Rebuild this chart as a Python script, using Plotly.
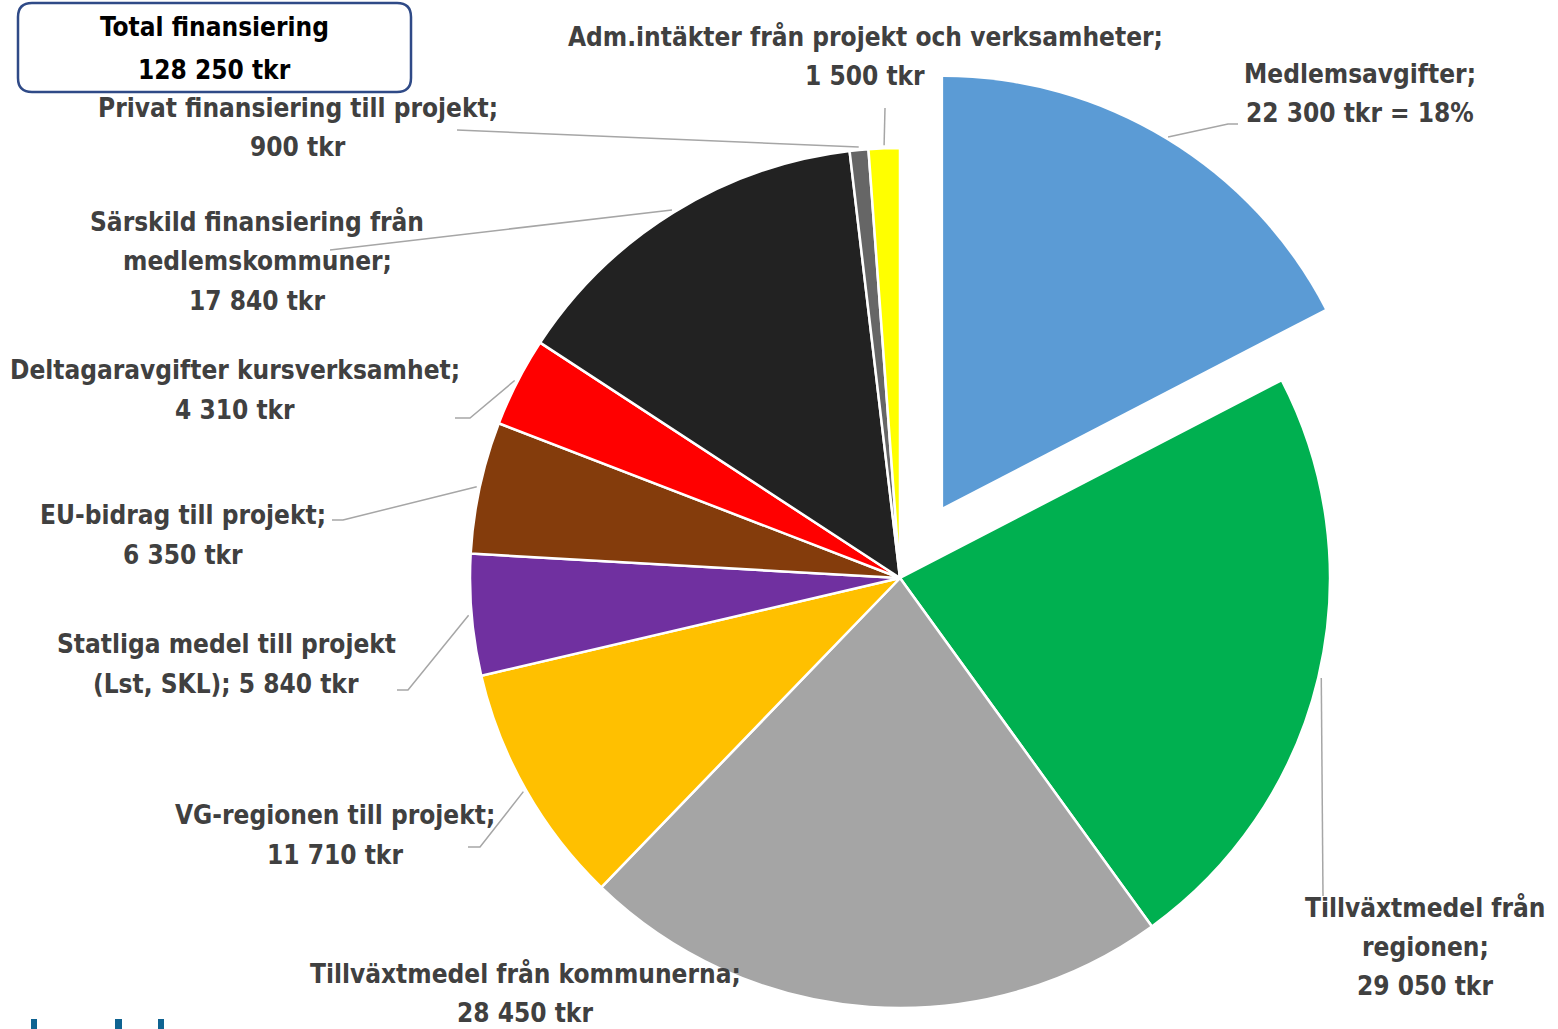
import math
import plotly.graph_objects as go

# ---------------- data ----------------
categories = [
    "Medlemsavgifter",
    "Tillväxtmedel från regionen",
    "Tillväxtmedel från kommunerna",
    "VG-regionen till projekt",
    "Statliga medel till projekt (Lst, SKL)",
    "EU-bidrag till projekt",
    "Deltagaravgifter kursverksamhet",
    "Särskild finansiering från medlemskommuner",
    "Privat finansiering till projekt",
    "Adm.intäkter från projekt och verksamheter",
]
values_tkr = [22300, 29050, 28450, 11710, 5840, 6350, 4310, 17840, 900, 1500]
label_heads = [
    "Medlemsavgifter;",
    "Tillväxtmedel från<br>regionen;",
    "Tillväxtmedel från kommunerna;",
    "VG-regionen till projekt;",
    "Statliga medel till projekt<br>(Lst, SKL);",
    "EU-bidrag till projekt;",
    "Deltagaravgifter kursverksamhet;",
    "Särskild finansiering från<br>medlemskommuner;",
    "Privat finansiering till projekt;",
    "Adm.intäkter från projekt och verksamheter;",
]
label_suffix = [" = 18%", "", "", "", "", "", "", "", "", ""]
value_on_same_line = [False, False, False, False, True, False, False, False, False, False]
total_title = "Total finansiering"
total_tkr = 128250

# ---------------- styles ----------------
colors = ["#5b9bd5", "#00b050", "#a5a5a5", "#ffc000", "#7030a0",
          "#843c0c", "#ff0000", "#222222", "#666666", "#ffff00"]
W, H = 1558, 1029
CX, CY, R = 900, 578, 430
PULL = 0.193
FONT = "Liberation Sans Narrow, DejaVu Sans Condensed, Roboto Condensed, Arial Narrow, sans-serif"
FSIZE = 26
TXT = "#404040"
LINE = "#a6a6a6"
LSTEP = 39.5

# label centre x and first-line y (px); leader-line label-side points (px)
label_pos = [(1360, 74), (1425, 907), (525, 973), (335, 815), (226, 644),
             (183, 515), (235, 370), (257, 222), (298, 108), (865, 37)]
leader_tail = [
    [(1228, 124), (1238, 124)],
    [(1323, 896)],
    None,
    [(480, 847), (468, 847)],
    [(408, 690), (397, 690)],
    [(343, 520), (332, 520)],
    [(470, 418), (455, 418)],
    [(330, 250)],
    [(457, 130)],
    [(885, 108)],
]


def fx(x):
    return x / W


def fy(y):
    return 1 - y / H


def fmt(v):
    return f"{v:,}".replace(",", " ") + " tkr"


def add_lines(annotations, lines, x, y0, step, color):
    for k, line in enumerate(lines):
        annotations.append(dict(
            x=fx(x), y=fy(y0 + k * step), xref="paper", yref="paper", text=line,
            showarrow=False, xanchor="center", yanchor="middle", align="center",
            font=dict(family=FONT, size=FSIZE, color=color, weight=700),
        ))


# mid angles from data
tot = sum(values_tkr)
mids = []
cum = 0.0
for v in values_tkr:
    f = v / tot
    mids.append((cum + f / 2) * 360)
    cum += f

# pulled slice centre
a0 = math.radians(mids[0])
PCX = CX + PULL * R * math.sin(a0)
PCY = CY - PULL * R * math.cos(a0)

fig = go.Figure()

# main pie with first slice transparent
main_colors = ["rgba(0,0,0,0)"] + colors[1:]
main_widths = [0] + [2.5] * (len(values_tkr) - 1)
fig.add_trace(go.Pie(
    labels=categories, values=values_tkr, sort=False, direction="clockwise",
    rotation=0, textinfo="none", hoverinfo="label+value",
    marker=dict(colors=main_colors, line=dict(color="white", width=main_widths)),
    domain=dict(x=[fx(CX - R), fx(CX + R)], y=[fy(CY + R), fy(CY - R)]),
    showlegend=False,
))

# pulled-out first slice
fig.add_trace(go.Pie(
    labels=[categories[0], "rest"], values=[values_tkr[0], tot - values_tkr[0]],
    sort=False, direction="clockwise", rotation=0, textinfo="none",
    hoverinfo="skip",
    marker=dict(colors=[colors[0], "rgba(0,0,0,0)"], line=dict(color="white", width=[0, 0])),
    domain=dict(x=[fx(PCX - R), fx(PCX + R)], y=[fy(PCY + R), fy(PCY - R)]),
    showlegend=False,
))

shapes = []
annotations = []
for i, v in enumerate(values_tkr):
    sep = " " if value_on_same_line[i] else "<br>"
    text = label_heads[i] + sep + fmt(v) + label_suffix[i]
    lx, ly = label_pos[i]
    add_lines(annotations, text.split("<br>"), lx, ly, LSTEP, TXT)
    if leader_tail[i] is not None:
        cx, cy = (PCX, PCY) if i == 0 else (CX, CY)
        a = math.radians(mids[i])
        sx = cx + (R + 3) * math.sin(a)
        sy = cy - (R + 3) * math.cos(a)
        path = f"M {fx(sx)},{fy(sy)}"
        for (tx, ty) in leader_tail[i]:
            path += f" L {fx(tx)},{fy(ty)}"
        shapes.append(dict(type="path", xref="paper", yref="paper", path=path,
                           line=dict(color=LINE, width=1.5)))

# total box (rounded rectangle)
bx0, by0, bx1, by1, rr = 18, 3, 411, 92, 14
box = (f"M {fx(bx0 + rr)},{fy(by0)} L {fx(bx1 - rr)},{fy(by0)} "
       f"Q {fx(bx1)},{fy(by0)} {fx(bx1)},{fy(by0 + rr)} "
       f"L {fx(bx1)},{fy(by1 - rr)} Q {fx(bx1)},{fy(by1)} {fx(bx1 - rr)},{fy(by1)} "
       f"L {fx(bx0 + rr)},{fy(by1)} Q {fx(bx0)},{fy(by1)} {fx(bx0)},{fy(by1 - rr)} "
       f"L {fx(bx0)},{fy(by0 + rr)} Q {fx(bx0)},{fy(by0)} {fx(bx0 + rr)},{fy(by0)} Z")
shapes.append(dict(type="path", xref="paper", yref="paper", path=box,
                   line=dict(color="#2f4a87", width=2.5), fillcolor="white"))
add_lines(annotations, [total_title, fmt(total_tkr)], 215, 27, 43, "#000000")

# cut-off logo fragments at the bottom-left
for (x0, x1) in [(31, 37), (115, 122), (158, 164)]:
    shapes.append(dict(type="rect", xref="paper", yref="paper",
                       x0=fx(x0), x1=fx(x1), y0=fy(1029), y1=fy(1019),
                       line=dict(width=0), fillcolor="#0f6391"))

fig.update_layout(
    width=W, height=H, margin=dict(l=0, r=0, t=0, b=0),
    paper_bgcolor="white", plot_bgcolor="white",
    shapes=shapes, annotations=annotations,
)

fig.write_html("out.html")
